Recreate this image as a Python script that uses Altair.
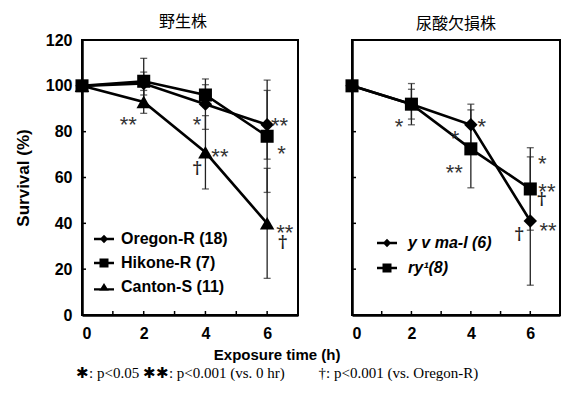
import altair as alt
import pandas as pd

# ---------------- data ----------------
times = [0, 2, 4, 6]

wild_names = ["Oregon-R (18)", "Hikone-R (7)", "Canton-S (11)"]
oregon_mean = [100, 101, 92, 83]
oregon_sd = [0, 5, 11, 15]
hikone_mean = [100, 102, 96, 78]
hikone_sd = [0, 10, 4.5, 24.5]
canton_mean = [100, 93, 71, 40]
canton_sd = [0, 5, 16, 24]

uric_names = ["y v ma-l (6)", "ry¹(8)"]
yvmal_mean = [100, 92, 83, 41]
yvmal_sd = [0, 6.5, 9, 28]
ry_mean = [100, 92, 72.5, 55]
ry_sd = [0, 9, 17, 18]

# significance marks
left_sig_x = [1.5, 3.73, 4.47, 3.73, 6.4, 6.47, 6.57, 6.5]
left_sig_y = [85.5, 85.5, 71.5, 64.0, 85, 72.5, 38.4, 32]
left_sig_t = ["**", "*", "**", "†", "**", "*", "**", "†"]
right_sig_x = [1.58, 3.47, 4.37, 3.44, 6.4, 6.56, 6.38, 5.63, 6.6]
right_sig_y = [84.6, 79, 84.6, 64.5, 68.5, 56, 50.6, 35.3, 39]
right_sig_t = ["*", "*", "*", "**", "*", "**", "†", "†", "**"]

x_minor_ticks = [1, 2, 3, 4, 5, 6]
y_minor_ticks = [20, 40, 60, 80, 100]

x_title = "Exposure time (h)"
footnote = "✱: p<0.05 ✱✱: p<0.001  (vs. 0 hr)\u2003\u2003 †: p<0.001 (vs. Oregon-R)"

FONT = "Liberation Sans"
H = 275


def series_frame(names, means, sds):
    rows = []
    for name, m, s in zip(names, means, sds):
        for t, mv, sv in zip(times, m, s):
            rows.append({"strain": name, "time": t, "mean": mv,
                         "lo": mv - sv, "hi": mv + sv, "sd": sv})
    return pd.DataFrame(rows)


def panel(df, sig, names, shapes, sizes, legend_paths, title, title_dx, title_off,
          width, left, lx, ly, rowpad, italic, loff):
    xs = alt.Scale(domain=[0, 7], nice=False)
    ys = alt.Scale(domain=[0, 120], nice=False)
    xaxis = alt.Axis(values=[0, 2, 4, 6], format="d", tickSize=0, labelPadding=10,
                     labelFontSize=16, labelFontWeight="bold", labelFont=FONT,
                     labelColor="black", domainColor="black", domainWidth=2.5,
                     grid=False, title=None)
    if left:
        yaxis = alt.Axis(values=[0, 20, 40, 60, 80, 100, 120], tickSize=0,
                         labelPadding=10, labelFontSize=16, labelFontWeight="bold",
                         labelFont=FONT, labelColor="black", domainColor="black",
                         domainWidth=2.5, grid=False, title="Survival (%)",
                         titleFont=FONT, titleFontSize=17, titleFontWeight="bold",
                         titleColor="black", titlePadding=13)
    else:
        yaxis = alt.Axis(values=[0, 20, 40, 60, 80, 100, 120], tickSize=0,
                         labels=False, domainColor="black", domainWidth=2.5,
                         grid=False, title=None)

    def X(field):
        return alt.X(field, scale=xs, axis=xaxis)

    def Y(field):
        return alt.Y(field, scale=ys, axis=yaxis)

    base = alt.Chart(df)

    lines = base.mark_line(color="black", strokeWidth=2.6).encode(
        x=X("time:Q"), y=Y("mean:Q"), detail="strain:N")

    eb = base.transform_filter("datum.sd > 0")
    bars = eb.mark_rule(color="#222", strokeWidth=1.3).encode(
        x=X("time:Q"), y=Y("lo:Q"), y2="hi:Q")
    cap_hi = eb.mark_tick(color="#222", orient="horizontal", size=7, thickness=1.3).encode(
        x=X("time:Q"), y=Y("hi:Q"))
    cap_lo = eb.mark_tick(color="#222", orient="horizontal", size=7, thickness=1.3).encode(
        x=X("time:Q"), y=Y("lo:Q"))

    layers = [bars, cap_hi, cap_lo, lines]
    for name, shp, sz in zip(names, shapes, sizes):
        layers.append(
            base.transform_filter(alt.datum.strain == name)
            .mark_point(shape=shp, filled=True, size=sz, color="black", opacity=1)
            .encode(x=X("time:Q"), y=Y("mean:Q"))
        )

    legend = base.transform_filter("false").mark_point(
        filled=True, color="black", opacity=1
    ).encode(
        x=X("time:Q"), y=Y("mean:Q"),
        shape=alt.Shape("strain:N", scale=alt.Scale(domain=names, range=legend_paths),
                        legend=alt.Legend(orient="none", legendX=lx, legendY=ly,
                                          title=None, padding=0, labelFont=FONT,
                                          labelFontSize=16, labelFontWeight="bold",
                                          labelFontStyle="italic" if italic else "normal",
                                          labelColor="black", labelOffset=loff,
                                          rowPadding=rowpad, symbolSize=400,
                                          symbolFillColor="black", symbolOpacity=1,
                                          labelLimit=300)),
    )
    layers.append(legend)

    sigdf = alt.Chart(sig)
    stars = sigdf.transform_filter("datum.t != '†'").mark_text(
        font=FONT, fontSize=22, color="#333", baseline="alphabetic", align="center", dy=12.5
    ).encode(x=X("x:Q"), y=Y("y:Q"), text="t:N")
    daggers = sigdf.transform_filter("datum.t == '†'").mark_text(
        font="DejaVu Serif", fontSize=17, fontWeight="bold", color="#222",
        baseline="alphabetic", align="center", dy=5
    ).encode(x=X("x:Q"), y=Y("y:Q"), text="t:N")
    layers += [stars, daggers]

    tdf = pd.DataFrame({"t": x_minor_ticks})
    xt = alt.Chart(tdf).mark_rule(color="black", strokeWidth=1.5).encode(
        x=X("t:Q"), y=alt.value(H), y2=alt.value(H - 4))
    ydf = pd.DataFrame({"v": y_minor_ticks})
    yt = alt.Chart(ydf).mark_rule(color="black", strokeWidth=1.5).encode(
        y=Y("v:Q"), x=alt.value(0), x2=alt.value(4))
    layers += [xt, yt]

    return alt.layer(*layers).properties(
        width=width, height=H,
        title=alt.TitleParams(title, font="Noto Sans CJK JP", fontSize=16,
                              fontWeight="normal", color="black", offset=title_off,
                              anchor="middle", dx=title_dx),
    )


wild_df = series_frame(wild_names, [oregon_mean, hikone_mean, canton_mean],
                       [oregon_sd, hikone_sd, canton_sd])
uric_df = series_frame(uric_names, [yvmal_mean, ry_mean], [yvmal_sd, ry_sd])
left_sig = pd.DataFrame({"x": left_sig_x, "y": left_sig_y, "t": left_sig_t})
right_sig = pd.DataFrame({"x": right_sig_x, "y": right_sig_y, "t": right_sig_t})

# legend glyphs: a thick horizontal bar (filled) + marker, all clockwise
bar = "M-1,-0.13L1,-0.13L1,0.13L-1,0.13Z"
diamond_leg = bar + "M0,-0.42L0.42,0L0,0.42L-0.42,0Z"
square_leg = bar + "M-0.45,-0.45L0.45,-0.45L0.45,0.45L-0.45,0.45Z"
triangle_leg = "M-1,0.12L1,0.12L1,0.36L-1,0.36Z" + "M0,-0.4L0.48,0.38L-0.48,0.38Z"

left = panel(wild_df, left_sig, wild_names, ["diamond", "square", "triangle-up"],
             [180, 170, 210], [diamond_leg, square_leg, triangle_leg],
             "野生株", -7, 2, 216, True, 11, 188, 5, False, 6)
right = panel(uric_df, right_sig, uric_names, ["diamond", "square"],
              [180, 170], [diamond_leg, square_leg],
              "尿酸欠損株", 0, 8, 208, False, 24, 192, 6, True, 10)

chart = alt.hconcat(left, right, spacing=45).resolve_scale(
    shape="independent", x="independent", y="independent"
).resolve_legend(shape="independent").properties(
    title=alt.TitleParams(x_title, orient="bottom", anchor="middle",
                          font=FONT, fontSize=15, fontWeight="bold",
                          color="black", offset=6, dx=-10,
                          subtitle=footnote, subtitleFont="Liberation Serif",
                          subtitleFontSize=15, subtitleColor="black",
                          subtitlePadding=3),
    padding={"left": 5, "top": 5, "right": 0, "bottom": 0},
).configure_view(stroke="black", strokeWidth=2)

chart.save("out.html", embed_options={"renderer": "svg", "actions": False})
